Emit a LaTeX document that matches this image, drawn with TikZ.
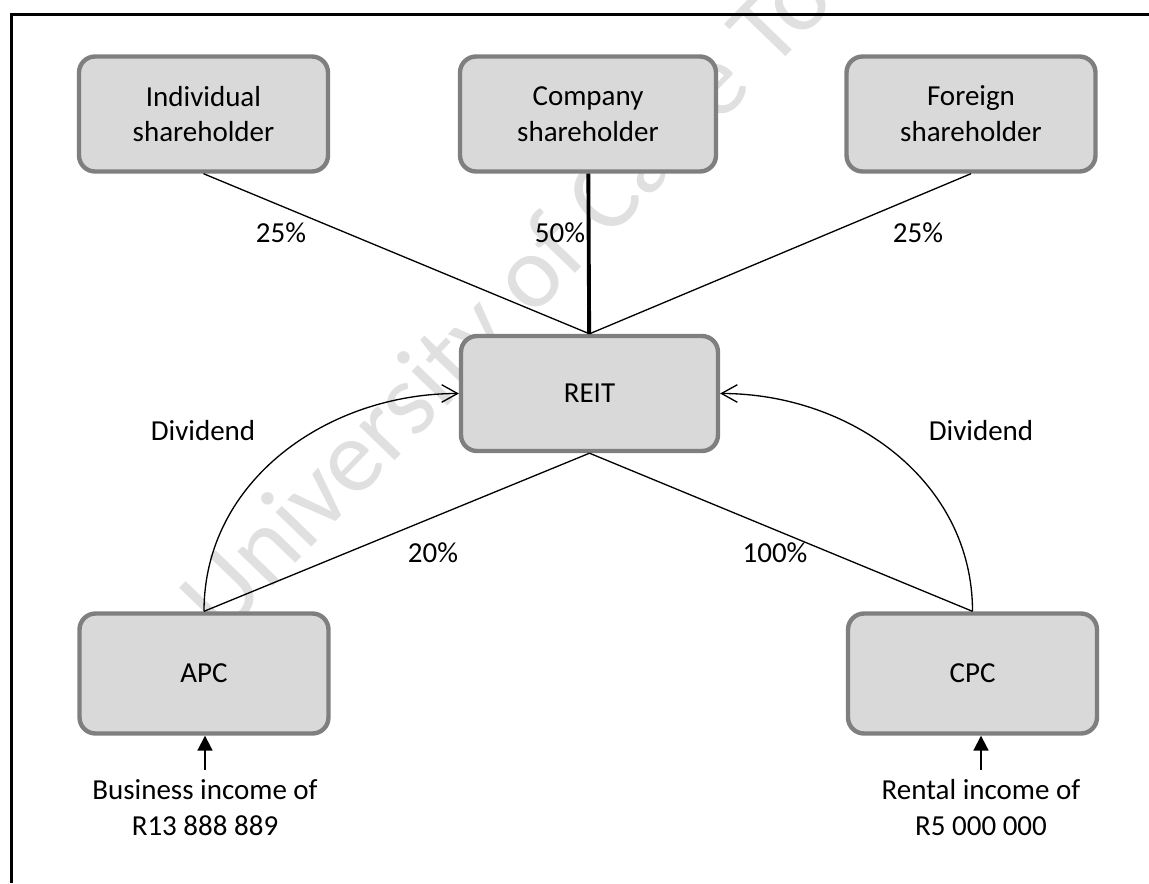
\documentclass[tikz,border=0pt]{standalone}
\usepackage{fontspec}
\setmainfont{Carlito}
\usepackage{tikz}
\usetikzlibrary{arrows.meta}
\definecolor{boxfill}{RGB}{217,217,217}
\definecolor{boxline}{RGB}{127,127,127}
\definecolor{wmark}{RGB}{224,224,224}
\tikzset{
  entity/.style={draw=boxline, fill=boxfill, line width=2.5pt, rounded corners=0.32cm,
    minimum width=4.98cm, minimum height=2.3cm, align=center},
  share/.style={line width=0.75pt},
  payout/.style={line width=0.75pt, -{Straight Barb[length=9pt,width=10pt]}},
  inflow/.style={line width=1.1pt, -{Triangle[length=8.5pt,width=8.5pt]}},
  income/.style={align=center, inner sep=0pt, outer sep=5.5pt, anchor=north}
}

\begin{document}
\begin{tikzpicture}[x=0.02cm, y=-0.02cm, font=\fontsize{16.5}{20.4}\selectfont]
  \useasboundingbox (0,0) rectangle (1149,883);
  \node (WM) [anchor=base west, rotate=46, inner sep=0pt, text=wmark,
    font=\fontsize{59}{60}\selectfont] at (222,640) {University of Cape Town};
  \draw [line width=1.7pt] (11.5,883) -- (11.5,14.5) -- (1149,14.5);

  \node (LT) [entity] at (203.5, 114) {Individual\\shareholder};
  \node (MT) [entity, minimum width=5.12cm] at (588, 114) {Company\\shareholder};
  \node (RT) [entity] at (971, 114) {Foreign\\shareholder};
  \node (MM) [entity, minimum width=5.14cm] at (589.5, 393.5) {REIT};
  \node (LB) [entity, minimum height=2.4cm] at (204, 673.5) {APC};
  \node (RB) [entity, minimum height=2.4cm] at (972.5, 673.5) {CPC};
  \node (LI) [income] at (205, 770) {Business income of\\R13 888 889};
  \node (RI) [income] at (981, 770) {Rental income of\\R5 000 000};

  \draw [share] (LT.south) -- (MM.north);
  \draw [share, line width=2.2pt] (MT) -- (MM);
  \draw [share] (RT.south) -- (MM.north);
  \draw [share] (MM.south) -- (LB.north);
  \draw [share] (MM.south) -- (RB.north);
  \draw [payout] (LB.north) to [out = 90, in = 180] (MM.west);
  \draw [payout] (RB.north) to [out = 90, in = 0] (MM.east);
  \draw [inflow] (LI) -- (LI |- LB.south);
  \draw [inflow] (RI) -- (RI |- RB.south);

  \node (P1) at (281, 233) {25\%};
  \node (P2) at (560, 233) {50\%};
  \node (P3) at (918, 233) {25\%};
  \node (P4) at (433, 553) {20\%};
  \node (P5) at (775, 553) {100\%};
  \node (D1) at (203, 431) {Dividend};
  \node (D2) at (981, 431) {Dividend};
\end{tikzpicture}
\end{document}
